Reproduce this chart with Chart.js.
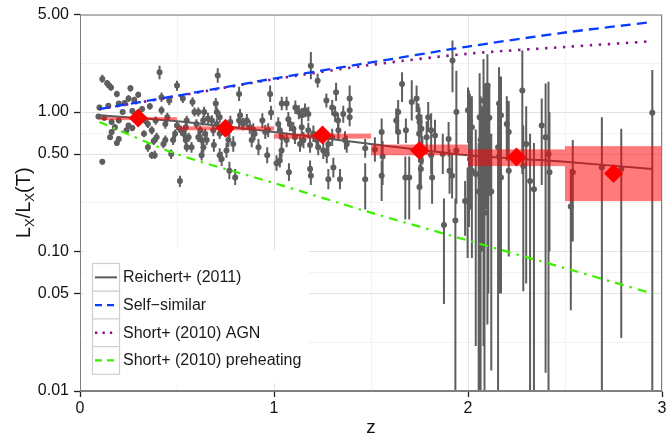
<!DOCTYPE html>
<html><head><meta charset="utf-8">
<script src="https://cdn.jsdelivr.net/npm/chart.js@4.4.0/dist/chart.umd.min.js"></script>
<style>html,body{margin:0;padding:0;background:#fff;overflow:hidden}</style>
</head><body>
<canvas id="c" width="672" height="437"></canvas>
<script>
// ---------------- data ----------------
const zObs = [
 0.115,0.14,0.15,0.16,0.19,0.26,0.41,0.30,0.25,0.28, 0.42,0.46,0.50,0.10,0.146,0.20,0.23,0.095,0.125,0.163,
 0.20,0.18,0.163,0.155,0.20,0.19,0.25,0.24,0.27,0.335, 0.35,0.39,0.37,0.395,0.38,0.35,0.385,0.37,0.42,0.44,
 0.44,0.43,0.47,0.48,0.49,0.52,0.50,0.115,0.515,0.22, 0.27,0.32,0.36,0.29,0.33,0.45,
 0.71,0.53,0.58,0.82,0.98,0.55,0.545,0.535,0.56,0.545, 0.575,0.55,0.59,0.61,0.64,0.635,0.60,0.62,0.61,0.645,
 0.627,0.653,0.636,0.627,0.69,0.68,0.70,0.705,0.72,0.705, 0.687,0.72,0.77,0.765,0.79,0.755,0.72,0.73,0.77,0.80,
 0.82,0.825,0.84,0.86,0.875,0.893,0.90,0.92,0.885,0.94, 0.955,0.97,0.965,0.985,0.775,0.66,
 1.19,1.225,1.32,1.27,1.39,1.04,1.065,1.11,1.128,1.16, 1.177,1.143,1.30,1.315,1.33,1.357,1.39,1.39,1.074,1.082,
 1.022,1.03,1.10,1.108,1.065,1.04,1.143,1.177,1.152,1.134, 1.186,1.203,1.22,1.228,1.28,1.272,1.254,1.30,1.332,1.366,
 1.375,1.013,1.03,1.039,1.077,1.186,1.19,1.306,1.28,1.34, 1.47,1.47,
 1.66,1.71,1.735,1.745,1.75,1.76,1.748,1.64,1.63,1.64, 1.555,1.56,1.555,1.52,1.68,1.677,1.697,1.75,1.757,1.757,
 1.765,1.787,1.795,1.81,1.81,1.815,1.83,1.87,1.876,1.90, 1.905,1.918,1.92,1.94,1.935,1.94,2.0,1.985,
 2.005,2.01,2.02,2.01,1.998,2.02,2.04,2.06,2.065,2.055, 2.065,2.075,2.08,2.09,2.10,2.085,2.10,2.11,2.12,2.105,
 2.085,2.16,2.17,2.155,2.16,2.17,2.20,2.21,2.21,2.28, 2.285,2.30,2.32,2.34,2.38,2.40,2.415,2.42,
 2.54,2.53,2.69,2.79,2.95
];
const ratioObs = [
 1.73,1.61,1.55,1.50,1.35,1.48,1.93,1.33,1.25,1.22, 1.28,1.21,1.55,1.08,1.11,1.15,1.16,0.93,0.91,0.85,
 0.87,0.78,0.72,0.66,0.64,0.60,0.80,0.74,0.77,0.87, 0.82,0.87,0.74,0.66,0.62,0.56,0.49,0.49,1.03,0.82,
 0.63,0.59,0.50,0.63,0.70,0.74,0.80,0.44,0.32,1.00, 1.02,1.05,1.10,0.95,0.70,0.92,
 1.83,1.25,1.18,1.35,1.35,0.87,0.78,0.70,0.66,0.63, 0.56,0.56,1.00,1.00,1.00,0.87,0.82,0.74,0.66,0.70,
 0.63,0.63,0.56,0.49,0.58,0.87,1.15,1.00,0.92,0.82, 0.74,0.70,0.74,0.63,0.59,0.53,0.49,0.46,0.38,0.34,
 0.87,0.95,0.82,0.87,0.78,0.74,0.70,0.56,0.63,0.87, 0.72,0.74,0.49,0.99,0.85,0.90,
 2.15,1.68,1.39,1.21,1.25,1.15,1.15,1.08,1.00,1.03, 0.97,0.95,1.08,0.97,0.87,0.97,1.03,0.92,0.89,0.82,
 0.82,0.74,0.76,0.66,0.63,0.66,0.78,0.74,0.63,0.59, 0.58,0.70,0.63,0.56,0.59,0.50,0.53,0.66,0.74,0.63,
 0.59,0.43,0.45,0.53,0.37,0.39,0.35,0.40,0.33,0.33, 0.55,0.33,
 1.59,1.18,1.25,0.92,0.85,0.76,0.70,1.00,0.87,0.72, 0.72,0.48,0.35,0.54,0.74,0.34,0.34,0.29,0.39,0.45,
 0.53,0.66,0.92,0.74,0.49,0.34,0.68,0.50,0.155,0.64, 0.38,0.35,2.34,1.00,0.167,0.53,1.03,0.23,
 1.03,0.87,0.78,0.46,0.23,0.38,0.36,0.92,0.63,0.27, 0.34,0.50,1.21,0.76,1.55,0.34,0.35,0.91,0.27,0.63,
 0.19,1.15,0.95,0.56,0.48,0.34,0.82,0.72,0.38,1.43, 0.41,0.59,0.32,0.28,0.80,0.66,0.50,0.37,
 0.37,0.21,0.40,0.39,0.99
];
const ratioLo = [
 1.62,1.52,1.47,1.42,1.28,1.40,1.72,1.26,1.18,1.16, 1.18,1.12,1.42,1.03,1.06,1.10,1.10,0.89,0.87,0.81,
 0.83,0.74,0.69,0.63,0.61,0.57,0.76,0.70,0.73,0.82, 0.77,0.81,0.69,0.61,0.58,0.52,0.46,0.46,0.96,0.76,
 0.58,0.55,0.46,0.58,0.65,0.68,0.74,0.42,0.29,0.96, 0.97,1.00,1.04,0.91,0.66,0.85,
 1.62,1.16,1.09,1.20,1.18,0.80,0.72,0.65,0.61,0.58, 0.51,0.52,0.93,0.93,0.92,0.80,0.76,0.68,0.61,0.64,
 0.58,0.58,0.51,0.45,0.52,0.79,1.05,0.91,0.84,0.75, 0.67,0.64,0.66,0.56,0.52,0.47,0.44,0.41,0.33,0.30,
 0.78,0.86,0.74,0.78,0.70,0.66,0.63,0.49,0.56,0.77, 0.64,0.66,0.43,0.88,0.77,0.82,
 1.72,1.50,1.20,1.08,1.02,1.03,1.03,0.97,0.89,0.92, 0.86,0.85,0.95,0.85,0.76,0.84,0.88,0.79,0.79,0.73,
 0.73,0.66,0.68,0.59,0.56,0.59,0.69,0.65,0.55,0.52, 0.51,0.61,0.55,0.49,0.51,0.43,0.46,0.57,0.64,0.54,
 0.51,0.38,0.40,0.47,0.32,0.34,0.30,0.34,0.28,0.28, 0.47,0.20,
 1.18,0.87,1.00,0.72,0.66,0.60,0.55,0.82,0.71,0.59, 0.50,0.30,0.23,0.44,0.60,0.17,0.17,0.20,0.30,0.34,
 0.42,0.50,0.72,0.55,0.36,0.22,0.52,0.36,0.042,0.48, 0.26,0.24,1.39,0.22,0.005,0.35,0.60,0.13,
 0.15,0.40,0.35,0.20,0.09,0.09,0.021,0.40,0.005,0.005, 0.021,0.10,0.021,0.20,0.037,0.005,0.03,0.25,0.014,0.05,
 0.03,0.30,0.30,0.005,0.05,0.05,0.45,0.092,0.12,0.36, 0.052,0.059,0.005,0.005,0.30,0.0135,0.005,0.10,
 0.118,0.038,0.005,0.024,0.005
];
const ratioHi = [
 1.85,1.70,1.64,1.58,1.42,1.56,2.15,1.40,1.32,1.29, 1.38,1.30,1.68,1.13,1.16,1.20,1.22,0.97,0.95,0.89,
 0.91,0.82,0.75,0.69,0.67,0.63,0.84,0.78,0.81,0.92, 0.87,0.93,0.79,0.71,0.66,0.60,0.53,0.52,1.10,0.88,
 0.68,0.63,0.54,0.68,0.75,0.80,0.86,0.46,0.35,1.04, 1.07,1.10,1.16,0.99,0.74,0.99,
 2.06,1.35,1.28,1.52,1.55,0.94,0.84,0.76,0.71,0.68, 0.61,0.60,1.08,1.08,1.09,0.94,0.89,0.80,0.72,0.76,
 0.69,0.69,0.61,0.54,0.64,0.95,1.26,1.09,1.01,0.90, 0.81,0.77,0.83,0.71,0.67,0.60,0.55,0.52,0.44,0.39,
 0.97,1.05,0.91,0.97,0.87,0.83,0.78,0.64,0.71,0.98, 0.81,0.83,0.56,1.11,0.94,0.99,
 2.70,1.88,1.62,1.36,1.55,1.29,1.29,1.21,1.12,1.15, 1.09,1.07,1.22,1.10,0.99,1.11,1.20,1.07,1.00,0.92,
 0.92,0.83,0.85,0.74,0.71,0.74,0.88,0.84,0.72,0.67, 0.66,0.80,0.72,0.64,0.68,0.58,0.61,0.76,0.85,0.73,
 0.68,0.49,0.51,0.60,0.43,0.45,0.41,0.47,0.39,0.39, 0.64,0.43,
 1.93,1.69,1.55,1.15,1.08,0.96,0.89,1.22,1.06,0.88, 0.90,0.62,0.45,0.66,0.90,0.48,0.48,0.42,0.50,0.58,
 0.67,0.86,1.18,0.98,0.66,0.50,0.88,0.70,0.24,0.85, 0.54,0.50,3.26,1.98,0.24,0.75,1.50,0.32,
 1.43,1.35,1.30,0.80,0.40,0.72,0.75,1.90,1.30,0.60, 0.70,1.10,2.40,1.60,2.60,0.75,0.90,1.60,0.70,1.20,
 0.45,2.10,1.80,1.10,0.95,0.75,1.30,1.20,0.65,2.76, 0.80,1.10,0.70,0.60,1.25,1.60,1.65,1.00,
 0.63,0.39,0.92,0.76,2.00
];
// binned means (red diamonds) and their bands
const binLo    = [0.1, 0.5, 1.0, 1.5, 2.0, 2.5];
const binHi    = [0.5, 1.0, 1.5, 2.0, 2.5, 3.0];
const binZ     = [0.30, 0.75, 1.25, 1.75, 2.25, 2.75];
const binMean  = [0.905, 0.767, 0.684, 0.531, 0.476, 0.362];
const binBandLo = [0.875, 0.74, 0.645, 0.49, 0.41, 0.23];
const binBandHi = [0.92, 0.79, 0.70, 0.585, 0.54, 0.57];
// model curves
const modelZ       = [0.1, 0.5, 1.0, 1.5, 2.0, 2.5, 2.95];
const reichert     = [0.95, 0.86, 0.72, 0.59, 0.49, 0.44, 0.39];
const selfSimilar  = [1.05, 1.31, 1.74, 2.27, 2.95, 3.72, 4.42];
const shortAGN     = [1.05, 1.30, 1.72, 2.18, 2.62, 2.93, 3.22];
const shortPreheat = [0.85, 0.50, 0.31, 0.19, 0.12, 0.076, 0.050];
// ticks
const yMajorTicks = [0.01, 0.05, 0.1, 0.5, 1, 5];
const yTickLabels = ['0.01', '0.05', '0.10', '0.50', '1.00', '5.00'];
const yMinorTicks = [0.02236, 0.07071, 0.2236, 0.7071, 2.236];
const xMajorTicks = [0, 1, 2, 3];
const xTickLabels = ['0', '1', '2', '3'];
const xMinorTicks = [0.5, 1.5, 2.5];

// ---------------- styling ----------------
const FONT = '"Liberation Sans", Arial, Helvetica, sans-serif';
const PT_COL = '#5e5e5e';
const toXY = (xs, ys) => xs.map((v, i) => ({x: v, y: ys[i]}));
const isMajor = (list, v) => list.some(m => Math.abs(m - v) < 1e-9);

const decor = {
  id: 'decor',
  beforeDatasetDraw(chart, args) {
    if (args.index !== 0) return;
    const {ctx, chartArea: a, scales: {x, y}} = chart;
    ctx.save();
    ctx.beginPath(); ctx.rect(a.left, a.top, a.right - a.left, a.bottom - a.top); ctx.clip();
    ctx.strokeStyle = PT_COL; ctx.lineWidth = 2;
    ctx.beginPath();
    for (let i = 0; i < zObs.length; i++) {
      const px = x.getPixelForValue(zObs[i]);
      ctx.moveTo(px, y.getPixelForValue(ratioHi[i]));
      ctx.lineTo(px, y.getPixelForValue(ratioLo[i]));
    }
    ctx.stroke();
    ctx.restore();
  },
  afterDatasetDraw(chart, args) {
    if (args.index !== 1) return;
    const {ctx, scales: {x, y}} = chart;
    ctx.save();
    ctx.fillStyle = 'rgba(255,0,0,0.52)';
    for (let i = 0; i < binLo.length; i++) {
      const x0 = x.getPixelForValue(binLo[i]), x1 = x.getPixelForValue(binHi[i]);
      const y0 = y.getPixelForValue(binBandHi[i]), y1 = y.getPixelForValue(binBandLo[i]);
      ctx.fillRect(x0, y0, x1 - x0, Math.max(2, y1 - y0));
    }
    ctx.restore();
  },
  afterDatasetsDraw(chart) {
    const {ctx} = chart;
    // legend
    const items = [1, 3, 4, 5].map(i => chart.data.datasets[i]);
    const L = 84, T = 250, R = 309, B = 383;
    ctx.save();
    ctx.fillStyle = '#ffffff';
    ctx.fillRect(L, T, R - L, B - T);
    const kx = 92, kw = 27, kh = 27.7, ky0 = 263;
    items.forEach((d, i) => {
      const ky = ky0 + i * kh;
      ctx.fillStyle = '#ffffff';
      ctx.fillRect(kx, ky, kw, kh);
      ctx.strokeStyle = '#cfcfcf'; ctx.lineWidth = 1.2; ctx.setLineDash([]);
      ctx.strokeRect(kx + 0.5, ky + 0.5, kw, kh);
      ctx.strokeStyle = d.borderColor; ctx.lineWidth = d.borderWidth;
      ctx.setLineDash(d.legendDash || []);
      ctx.beginPath(); ctx.moveTo(kx + 3, ky + kh / 2 + 0.5); ctx.lineTo(kx + kw - 2, ky + kh / 2 + 0.5); ctx.stroke();
      ctx.setLineDash([]);
      ctx.fillStyle = '#1a1a1a';
      ctx.font = '16px ' + FONT;
      ctx.textBaseline = 'middle'; ctx.textAlign = 'left';
      ctx.fillText(d.label, 123, ky + kh / 2 + 1);
    });
    ctx.restore();
  },
  afterDraw(chart) {
    const {ctx, chartArea: a} = chart;
    ctx.save();
    ctx.strokeStyle = '#7f7f7f'; ctx.lineWidth = 1;
    ctx.strokeRect(a.left + 0.5, a.top + 0.5, a.right - a.left - 1, a.bottom - a.top - 1);
    // x title
    ctx.fillStyle = '#111';
    ctx.font = '19px ' + FONT;
    ctx.textAlign = 'center'; ctx.textBaseline = 'alphabetic';
    ctx.fillText('z', (a.left + a.right) / 2, 433);
    // y title with subscripts
    const parts = [['L', 20, 0], ['X', 13, 4], ['/L', 20, 0], ['X', 13, 4], ['(T)', 20, 0]];
    let total = 0;
    parts.forEach(p => { ctx.font = p[1] + 'px ' + FONT; total += ctx.measureText(p[0]).width; });
    ctx.translate(30, (a.top + a.bottom) / 2);
    ctx.rotate(-Math.PI / 2);
    let cx = -total / 2;
    ctx.textAlign = 'left';
    parts.forEach(p => {
      ctx.font = p[1] + 'px ' + FONT;
      ctx.fillText(p[0], cx, p[2]);
      cx += ctx.measureText(p[0]).width;
    });
    ctx.restore();
  }
};

const lineDs = (label, ys, color, width, dash, order, legendDash) => ({
  type: 'scatter', label, data: toXY(modelZ, ys), showLine: true,
  borderColor: color, backgroundColor: color, borderWidth: width, borderDash: dash,
  pointRadius: 0, pointHoverRadius: 0, tension: 0.3, order, legendDash: legendDash || dash
});

new Chart(document.getElementById('c'), {
  type: 'scatter',
  data: {
    datasets: [
      { label: 'clusters', data: toXY(zObs, ratioObs), pointRadius: 3, pointHoverRadius: 3,
        backgroundColor: PT_COL, borderWidth: 0, order: 10 },
      lineDs('Reichert+ (2011)', reichert, '#5a5a5a', 2, [], 8),
      { label: 'binned', data: toXY(binZ, binMean), pointStyle: 'rectRot', pointRadius: 9.5,
        pointHoverRadius: 9.5, backgroundColor: '#ff0000', borderWidth: 0, order: 1 },
      lineDs('Self\u2212similar', selfSimilar, '#0a3cff', 2.3, [10, 6], 3, [7, 5]),
      lineDs('Short+ (2010) AGN', shortAGN, '#8b148b', 2.6, [2.4, 6.6], 4, [2.4, 5]),
      lineDs('Short+ (2010) preheating', shortPreheat, '#3cf000', 2.2, [9, 6, 2.5, 6], 5, [7, 5])
    ]
  },
  options: {
    responsive: false, animation: false, devicePixelRatio: 1,
    layout: { padding: { left: 0, right: 10, top: 14, bottom: 0 } },
    plugins: { legend: { display: false }, tooltip: { enabled: false } },
    scales: {
      x: {
        type: 'linear', min: 0, max: 3,
        afterBuildTicks: s => { s.ticks = [...xMajorTicks, ...xMinorTicks].sort((a, b) => a - b).map(v => ({value: v})); },
        afterFit: s => { s.height = 46; },
        ticks: { autoSkip: false, maxRotation: 0, padding: 2, color: '#111', font: { size: 16, family: FONT },
          callback: v => isMajor(xMajorTicks, v) ? xTickLabels[xMajorTicks.findIndex(m => Math.abs(m - v) < 1e-9)] : '' },
        grid: { color: c => isMajor(xMajorTicks, c.tick.value) ? '#e3e3e3' : '#f2f2f2', lineWidth: 1,
          tickLength: 6, tickColor: c => isMajor(xMajorTicks, c.tick.value) ? '#222' : 'rgba(0,0,0,0)', tickWidth: 1.3 },
        border: { display: true, color: '#7f7f7f', width: 1 }
      },
      y: {
        type: 'logarithmic', min: 0.01, max: 5,
        afterBuildTicks: s => { s.ticks = [...yMajorTicks, ...yMinorTicks].sort((a, b) => a - b).map(v => ({value: v})); },
        afterFit: s => { s.width = 80; },
        ticks: { autoSkip: false, padding: 5, color: '#111', font: { size: 16, family: FONT },
          callback: v => isMajor(yMajorTicks, v) ? yTickLabels[yMajorTicks.findIndex(m => Math.abs(m - v) < 1e-9)] : '' },
        grid: { color: c => isMajor(yMajorTicks, c.tick.value) ? '#e3e3e3' : '#f2f2f2', lineWidth: 1,
          tickLength: 6, tickColor: c => isMajor(yMajorTicks, c.tick.value) ? '#222' : 'rgba(0,0,0,0)', tickWidth: 1.3 },
        border: { display: true, color: '#7f7f7f', width: 1 }
      }
    }
  },
  plugins: [decor]
});
</script>
</body></html>
